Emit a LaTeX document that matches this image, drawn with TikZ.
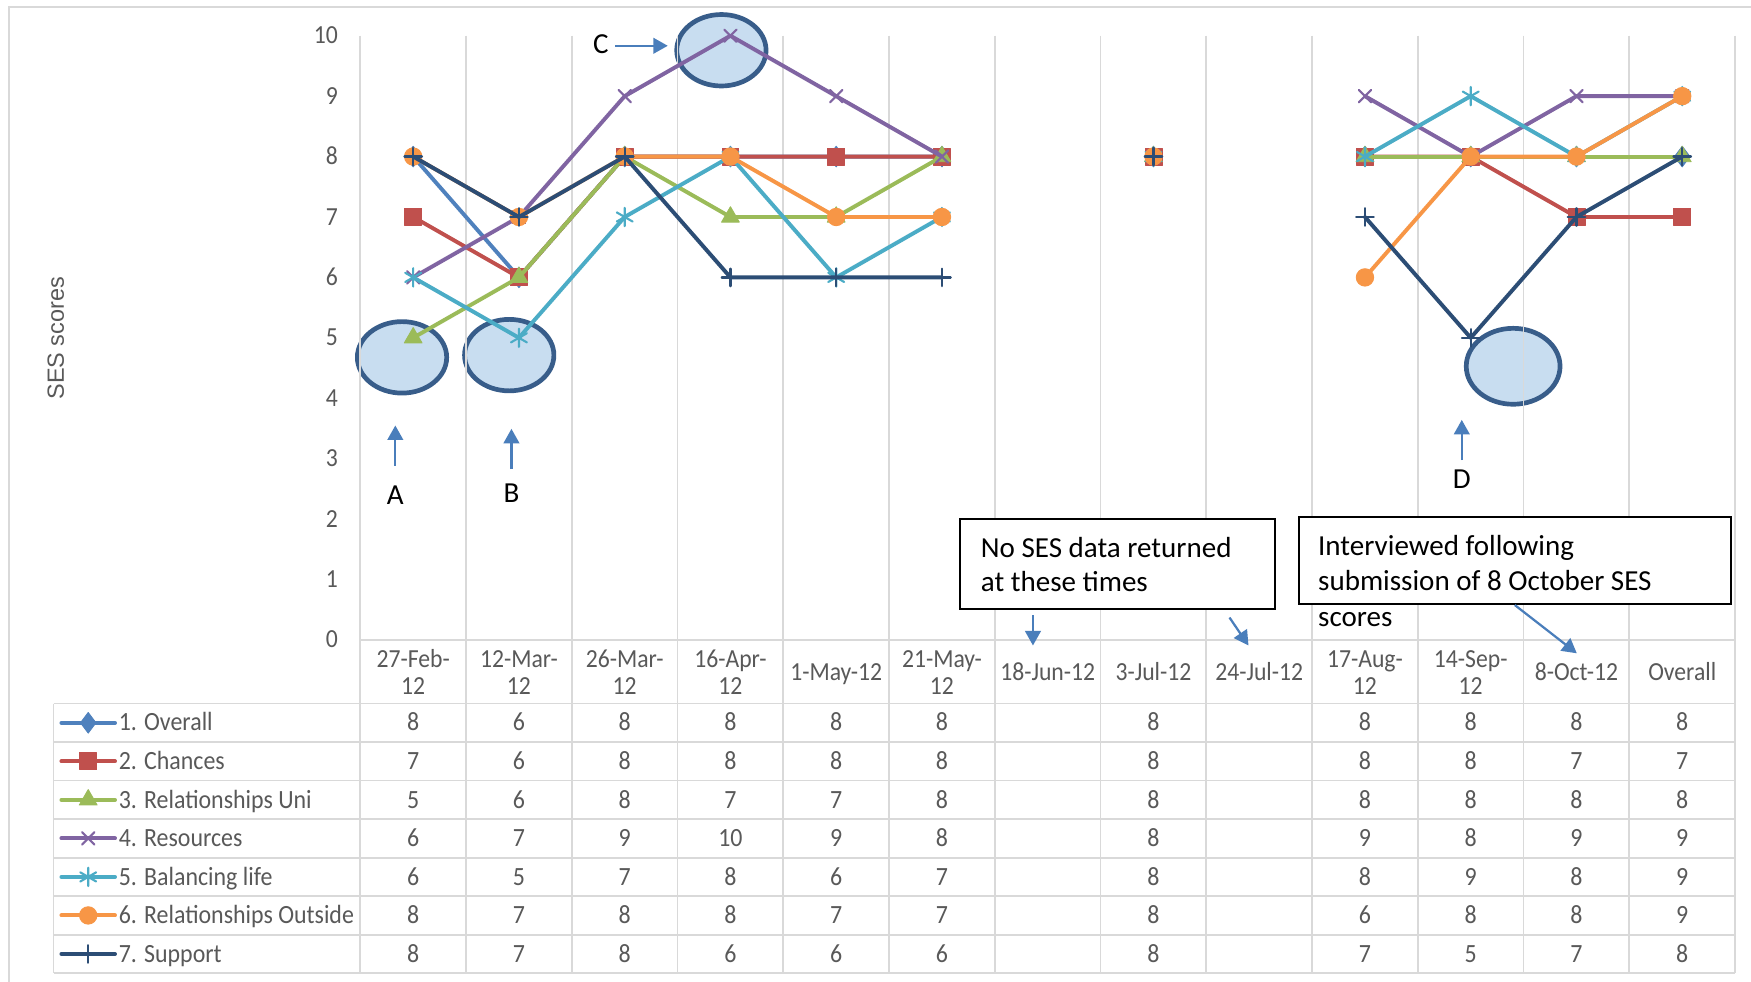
\documentclass[tikz,border=0pt]{standalone}
\usepackage{fontspec}
\setmainfont{Carlito}
\newfontfamily\arialfont{Liberation Sans}
\usetikzlibrary{arrows.meta,plotmarks,shapes.geometric}
\newcommand\vst[1]{\scalebox{1}[1.1]{#1}}
\definecolor{gridgray}{HTML}{D9D9D9}
\definecolor{txtgray}{HTML}{595959}
\definecolor{c1}{HTML}{4F81BD}
\definecolor{c2}{HTML}{C0504D}
\definecolor{c3}{HTML}{9BBB59}
\definecolor{c4}{HTML}{8064A2}
\definecolor{c5}{HTML}{4BACC6}
\definecolor{c6}{HTML}{F79646}
\definecolor{c7}{HTML}{2C4D75}
\definecolor{hlfill}{HTML}{C8DDF0}
\definecolor{hlborder}{HTML}{385D8A}
\definecolor{arrowblue}{HTML}{4A7EBB}
\begin{document}
\begin{tikzpicture}[x=0.5pt,y=-0.5pt,
  gridline/.style={draw=gridgray, line width=0.8pt},
  ticklabel/.style={text=txtgray, font=\fontsize{10.6}{12}\selectfont, inner sep=0pt},
  catlabel/.style={text=txtgray, font=\fontsize{10.6}{12}\selectfont, align=center, inner sep=0pt},
  cell/.style={text=txtgray, font=\fontsize{10.7}{12}\selectfont, inner sep=0pt},
  legendlabel/.style={text=txtgray, font=\fontsize{10.7}{12}\selectfont, inner sep=0pt},
  highlight/.style={ellipse, draw=hlborder, fill=hlfill, line width=2.1pt, inner sep=0pt},
  callout/.style={draw=arrowblue, line width=1pt, -{Triangle[length=6.5pt,width=7pt]}},
  notebox/.style={draw=black, fill=white, line width=0.8pt, inner sep=0pt},
  notetext/.style={font=\fontsize{13}{15.8}\selectfont, inner sep=0pt, anchor=base west},
  letter/.style={font=\fontsize{13}{15}\selectfont, inner sep=0pt, anchor=base},
  series/.style={line width=1.75pt, line join=round, line cap=round},
  ser1/.style={series, draw=c1, mark=diamond*, mark size=4.6pt, mark options={solid, draw=c1, fill=c1, line width=0.4pt}},
  ser2/.style={series, draw=c2, mark=square*, mark size=3.8pt, mark options={solid, draw=c2, fill=c2, line width=0.4pt}},
  ser3/.style={series, draw=c3, mark=triangle*, mark size=4.6pt, mark options={solid, draw=c3, fill=c3, line width=0.4pt}},
  ser4/.style={series, draw=c4, mark=x, mark size=3.9pt, mark options={solid, draw=c4, line width=0.95pt}},
  ser5/.style={series, draw=c5, mark=asterisk, mark size=4.1pt, mark options={solid, draw=c5, line width=0.95pt}},
  ser6/.style={series, draw=c6, mark=*, mark size=3.9pt, mark options={solid, draw=c6, fill=c6, line width=0.4pt}},
  ser7/.style={series, draw=c7, mark=+, mark size=3.9pt, mark options={solid, draw=c7, line width=1.05pt}}
]
\useasboundingbox (0,0) rectangle (1568,879);
\fill[white] (0,0) rectangle (1568,879);

% outer chart border
\draw[gridline] (8,900) -- (8,6) -- (1600,6);

% highlight ellipses
\node[highlight, minimum width=40pt, minimum height=32pt] (circA) at (360,320) {};
\node[highlight, minimum width=40pt, minimum height=32pt] (circB) at (456,318) {};
\node[highlight, minimum width=40pt, minimum height=32pt] (circC) at (646,45) {};
\node[highlight, minimum width=42pt, minimum height=34pt] (circD) at (1355,328) {};

% grid and table
\foreach \k in {0,...,13} {
  \draw[gridline] ({322.65+94.7*\k},32) -- ({322.65+94.7*\k},871.5);
}
\draw[gridline] (322.65,573) -- (1553.75,573);
\draw[gridline] (48,630) -- (48,871.5);
\foreach \r in {0,...,7} {
  \draw[gridline] (48,{630+34.5*\r}) -- (1553.75,{630+34.5*\r});
}

% y axis
\foreach \v in {0,...,10} {
  \node[ticklabel, anchor=base east] (yt\v) at (303,{573-54.1*\v+7.2}) {\vst{\v}};
}
\node[rotate=90, text=txtgray, font=\arialfont\fontsize{10.5}{12}\selectfont] (ytitle) at (50,303) {SES scores};

% category labels
\foreach \i/\a in {0/27-Feb-,1/12-Mar-,2/26-Mar-,3/16-Apr-,5/21-May-,9/17-Aug-,10/14-Sep-} {
  \node[catlabel] (cat\i) at ({370+94.7*\i},602) {\vst{\a}\\\vst{12}};
}
\foreach \i/\a in {4/1-May-12,6/18-Jun-12,7/3-Jul-12,8/24-Jul-12,11/8-Oct-12,12/Overall} {
  \node[catlabel, anchor=base] (cat\i) at ({370+94.7*\i},609.2) {\vst{\a}};
}

% table values
\foreach \r/\vals in {1/{8,6,8,8,8,8,,8,,8,8,8,8},2/{7,6,8,8,8,8,,8,,8,8,7,7},3/{5,6,8,7,7,8,,8,,8,8,8,8},4/{6,7,9,10,9,8,,8,,9,8,9,9},5/{6,5,7,8,6,7,,8,,8,9,8,9},6/{8,7,8,8,7,7,,8,,6,8,8,9},7/{8,7,8,6,6,6,,8,,7,5,7,8}} {
  \foreach \v [count=\i from 0] in \vals {
    \node[cell, anchor=base] (cell\r-\i) at ({370+94.7*\i},{647.25+34.5*(\r-1)+7.3}) {\vst{\v}};
  }
}

% legend
\foreach \r/\s/\lab in {1/ser1/{1. Overall},2/ser2/{2. Chances},3/ser3/{3. Relationships Uni},4/ser4/{4. Resources},5/ser5/{5. Balancing life},6/ser6/{6. Relationships Outside},7/ser7/{7. Support}} {
  \pgfmathsetmacro\yy{647.25+34.5*(\r-1)}
  \draw[\s] plot[mark indices={2}] coordinates {(55,\yy) (79,\yy) (103,\yy)};
  \node[legendlabel, anchor=base west] (leg\r) at (106,\yy+7.3) {\vst{\lab}};
}

% data series
\begin{scope}[shift={(185pt,-286.5pt)}, x=47.35pt, y=27.05pt]
  \draw[ser1] plot coordinates {(0,8) (1,6) (2,8) (3,8) (4,8) (5,8)};
  \draw[ser1] plot[only marks] coordinates {(7,8)};
  \draw[ser1] plot coordinates {(9,8) (10,8) (11,8) (12,8)};
  \draw[ser2] plot coordinates {(0,7) (1,6) (2,8) (3,8) (4,8) (5,8)};
  \draw[ser2] plot[only marks] coordinates {(7,8)};
  \draw[ser2] plot coordinates {(9,8) (10,8) (11,7) (12,7)};
  \draw[ser3] plot coordinates {(0,5) (1,6) (2,8) (3,7) (4,7) (5,8)};
  \draw[ser3] plot[only marks] coordinates {(7,8)};
  \draw[ser3] plot coordinates {(9,8) (10,8) (11,8) (12,8)};
  \draw[ser4] plot coordinates {(0,6) (1,7) (2,9) (3,10) (4,9) (5,8)};
  \draw[ser4] plot[only marks] coordinates {(7,8)};
  \draw[ser4] plot coordinates {(9,9) (10,8) (11,9) (12,9)};
  \draw[ser5] plot coordinates {(0,6) (1,5) (2,7) (3,8) (4,6) (5,7)};
  \draw[ser5] plot[only marks] coordinates {(7,8)};
  \draw[ser5] plot coordinates {(9,8) (10,9) (11,8) (12,9)};
  \draw[ser6] plot coordinates {(0,8) (1,7) (2,8) (3,8) (4,7) (5,7)};
  \draw[ser6] plot[only marks] coordinates {(7,8)};
  \draw[ser6] plot coordinates {(9,6) (10,8) (11,8) (12,9)};
  \draw[ser7] plot coordinates {(0,8) (1,7) (2,8) (3,6) (4,6) (5,6)};
  \draw[ser7] plot[only marks] coordinates {(7,8)};
  \draw[ser7] plot coordinates {(9,7) (10,5) (11,7) (12,8)};
\end{scope}

% letters and arrows
\node[letter] (labA) at (354,452) {A};
\node[letter] (labB) at (458,450) {B};
\node[letter] (labC) at (538,48) {C};
\node[letter] (labD) at (1309,437) {D};
\coordinate (aAs) at (354,417); \coordinate (aAe) at (354,381);
\coordinate (aBs) at (458,420); \coordinate (aBe) at (458,384);
\coordinate (aCs) at (551,41);  \coordinate (aCe) at (598,41);
\coordinate (aDs) at (1309,412); \coordinate (aDe) at (1309,376);
\draw[callout] (aAs) -- (aAe);
\draw[callout] (aBs) -- (aBe);
\draw[callout] (aCs) -- (aCe);
\draw[callout] (aDs) -- (aDe);

% note boxes
\node[notebox, minimum width=141pt, minimum height=40pt] (box1) at (1001,505) {};
\node[notetext] (note1a) at (878,499) {No SES data returned};
\node[notetext] (note1b) at (878,530) {at these times};
\node[notebox, minimum width=193.5pt, minimum height=39pt] (box2) at (1356.5,502) {};
\node[notetext] (note2a) at (1180,497) {Interviewed following};
\node[notetext] (note2b) at (1180,529) {submission of 8 October SES};
\node[notetext] (note2c) at (1180,561) {scores};

\coordinate (n1s) at (925,551); \coordinate (n1e) at (925,578);
\coordinate (n2s) at (1101,553); \coordinate (n2e) at (1118,578);
\coordinate (n3e) at (1412,585);
\draw[callout] (n1s) -- (n1e);
\draw[callout] (n2s) -- (n2e);
\draw[callout] (box2.south) -- (n3e);
\end{tikzpicture}
\end{document}
